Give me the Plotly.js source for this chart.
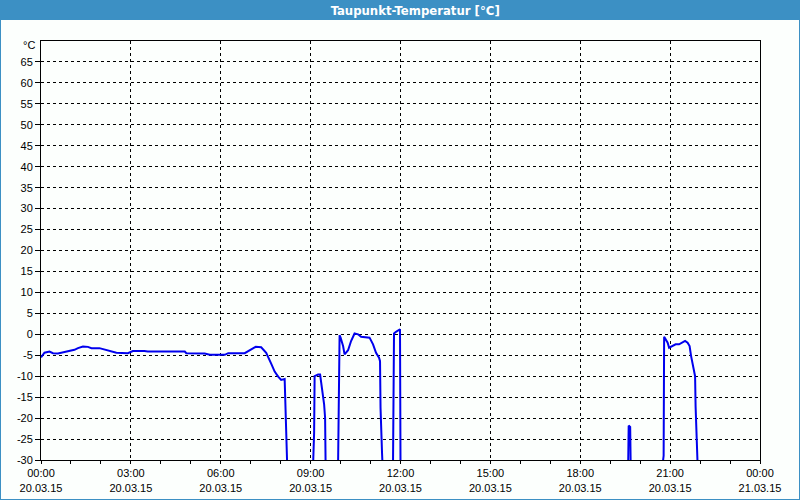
<!DOCTYPE html>
<html>
<head>
<meta charset="utf-8">
<script src="https://cdn.plot.ly/plotly-3.0.1.min.js"></script>
<style>
  html, body { margin: 0; padding: 0; background: #fcfffd; }
  #chart { width: 800px; height: 500px; }
</style>
</head>
<body>
<div id="chart"></div>
<script>
// Dew point readings of 20.03.15 (time of day, value in °C); null = no data (gap)
var times = [
  "00:00","00:07","00:17","00:24","00:34","00:41","00:57","01:07","01:14","01:24",
  "01:34","01:41","01:57","02:07","02:17","02:31","02:54","03:04","03:27","03:34",
  "04:48","04:51","05:28","05:38","06:08","06:15","06:48","06:58","07:10","07:21",
  "07:31","07:41","07:48","07:55","08:01","08:08","08:10","08:13",
  "08:40",
  "09:05","09:07","09:08","09:15","09:19","09:21","09:25","09:27","09:29","09:30",
  "09:42",
  "09:55","09:56","09:58","10:00","10:05","10:08","10:15","10:21","10:28","10:35",
  "10:41","10:58","11:05","11:11","11:17","11:19","11:20","11:23","11:24",
  "11:35",
  "11:45","11:46","11:47","11:51","11:57","11:59","12:00",
  "16:00",
  "19:36","19:37","19:40","19:41",
  "20:10",
  "20:45","20:47","20:48","20:51","20:55","20:58","21:01","21:05","21:11","21:18",
  "21:25","21:30","21:35","21:39","21:42","21:45","21:48","21:50","21:51","21:53","21:55"
];
var dewPoint = [
  -5.5,-4.4,-4.1,-4.5,-4.6,-4.4,-3.9,-3.7,-3.3,-2.9,
  -3.0,-3.3,-3.3,-3.6,-4.0,-4.4,-4.5,-4.0,-4.0,-4.1,
  -4.1,-4.5,-4.6,-4.9,-4.9,-4.5,-4.5,-3.8,-3.0,-3.1,
  -4.4,-7.0,-8.9,-10.1,-10.9,-10.7,-20.0,-31,
  null,
  -31,-23.5,-10.0,-9.6,-9.6,-11.2,-14.4,-16.7,-19.9,-31,
  null,
  -31,-23.5,-0.2,-0.8,-2.8,-4.8,-3.8,-1.6,0.2,0.0,
  -0.6,-0.8,-2.4,-4.4,-5.6,-6.4,-17.5,-28.3,-31,
  null,
  -31,-20.3,0.2,0.6,1.2,1.2,-31,
  null,
  -31,-21.8,-22.1,-31,
  null,
  -31,-29,-0.6,-1.2,-2.0,-3.2,-3.0,-2.8,-2.4,-2.4,
  -2.0,-1.6,-2.0,-2.8,-5.2,-6.8,-8.4,-10.0,-17.2,-25.0,-31
];

var xTickVals = ["2015-03-20 00:00","2015-03-20 03:00","2015-03-20 06:00","2015-03-20 09:00",
  "2015-03-20 12:00","2015-03-20 15:00","2015-03-20 18:00","2015-03-20 21:00","2015-03-21 00:00"];
var xTickText = ["00:00<br>20.03.15","03:00<br>20.03.15","06:00<br>20.03.15","09:00<br>20.03.15",
  "12:00<br>20.03.15","15:00<br>20.03.15","18:00<br>20.03.15","21:00<br>20.03.15","00:00<br>21.03.15"];
var yTickVals = [-30,-25,-20,-15,-10,-5,0,5,10,15,20,25,30,35,40,45,50,55,60,65];
var yTickText = ["-30","-25","-20","-15","-10","-5","0","5","10","15","20","25","30","35","40","45","50","55","60","65"];
var titleText = "Taupunkt-Temperatur [°C]";
var unitText = "°C";

var x = times.map(function (t) { return "2015-03-20 " + t; });

var frame = "#3c90c4";
var bg = "#fcfffd";

var trace = {
  type: "scatter",
  mode: "lines",
  x: x,
  y: dewPoint,
  connectgaps: false,
  line: { color: "#0000ee", width: 2 },
  hoverinfo: "x+y"
};

// plot area: x 41..760, y 41..460 (px)
function px(v) { return (v - 41) / 719; }
function py(v) { return (460 - v) / 419; }

var layout = {
  width: 800,
  height: 500,
  margin: { l: 41, r: 40, t: 41, b: 40, pad: 0 },
  paper_bgcolor: bg,
  plot_bgcolor: bg,
  showlegend: false,
  font: { family: "Liberation Sans, Arial, sans-serif", size: 11, color: "#000" },
  title: {
    text: "<b>" + titleText + "</b>",
    font: { family: "Liberation Sans Narrow, DejaVu Sans Condensed, sans-serif", size: 13, color: "#ffffff" },
    x: 0.519, xanchor: "center", xref: "container",
    y: 0.98, yanchor: "middle", yref: "container"
  },
  xaxis: {
    type: "date",
    range: ["2015-03-20 00:00", "2015-03-21 00:00"],
    tickmode: "array",
    tickvals: xTickVals,
    ticktext: xTickText,
    ticks: "outside",
    ticklen: 3,
    tickcolor: "#000",
    showline: true,
    linecolor: "#000",
    linewidth: 1,
    mirror: true,
    showgrid: true,
    gridcolor: "#000",
    gridwidth: 1,
    griddash: "3px,3px",
    zeroline: false,
    fixedrange: true,
    minor: { dtick: 3600000, tick0: "2015-03-20 00:00", ticks: "outside", ticklen: 3, tickcolor: "#000", showgrid: false }
  },
  yaxis: {
    range: [-30, 70],
    tickmode: "array",
    tickvals: yTickVals,
    ticktext: yTickText,
    ticks: "outside",
    ticklen: 5,
    tickcolor: "#000",
    showline: true,
    linecolor: "#000",
    linewidth: 1,
    mirror: true,
    showgrid: true,
    gridcolor: "#000",
    gridwidth: 1,
    griddash: "3px,3px",
    zeroline: false,
    fixedrange: true
  },
  annotations: [{
    text: unitText, xref: "paper", yref: "paper",
    x: px(37), y: py(45), xanchor: "right", yanchor: "middle",
    showarrow: false, font: { size: 11, color: "#000" }
  }],
  shapes: [
    { type: "rect", xref: "paper", yref: "paper", x0: px(0), x1: px(800), y0: py(20), y1: py(0),
      fillcolor: frame, line: { width: 0 }, layer: "below" },
    { type: "line", xref: "paper", yref: "paper", x0: px(0.5), x1: px(0.5), y0: py(20), y1: py(500),
      line: { color: frame, width: 1 } },
    { type: "line", xref: "paper", yref: "paper", x0: px(799.5), x1: px(799.5), y0: py(20), y1: py(500),
      line: { color: frame, width: 1 } },
    { type: "line", xref: "paper", yref: "paper", x0: px(0), x1: px(800), y0: py(499.5), y1: py(499.5),
      line: { color: frame, width: 1 } }
  ]
};

Plotly.newPlot("chart", [trace], layout, { displayModeBar: false, staticPlot: true });
</script>
</body>
</html>
